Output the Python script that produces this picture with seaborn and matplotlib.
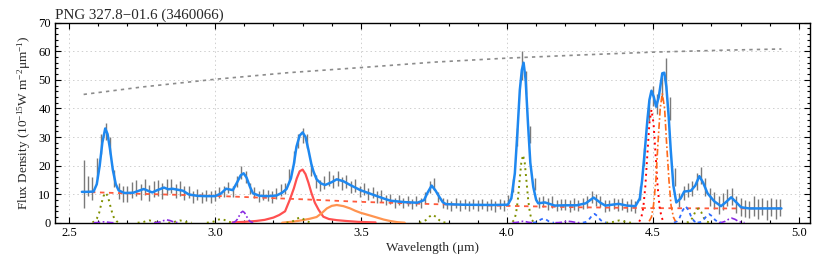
import matplotlib
matplotlib.use("Agg")
import matplotlib.pyplot as plt
import numpy as np
import pandas as pd
import seaborn as sns

nan = np.nan

# observed spectrum (uniform 0.015 um grid starting at 2.55 um)
wave_start = 2.55
wave_step = 0.015
flux = [
    13.5, 13.0, 12.0, 19.0, 27.5, 32.0, 27.0, 15.5, 11.0, 10.0,
    10.2, 11.5, 12.0, 10.8, 12.5, 10.5, 11.8, 12.2, 11.2, 12.6,
    12.8, 11.2, 12.0, 10.4, 10.8, 9.0, 9.8, 8.8, 9.6, 9.0,
    9.6, 10.5, 11.0, 12.4, 11.0, 14.5, 17.5, 16.0, 12.0, 10.5,
    9.2, 9.8, 9.5, 9.0, 10.2, 11.5, 12.0, 16.5, 23.0, 28.5,
    30.5, 28.5, 18.5, 14.5, 13.0, 14.0, 15.5, 14.5, 15.5, 13.8,
    14.5, 12.5, 13.0, 11.0, 11.8, 10.0, 10.5, 9.0, 9.4, 8.0,
    8.2, 7.0, 8.0, 6.8, 7.6, 6.6, 7.5, 7.0, 8.8, 12.5,
    13.5, 9.0, 7.0, 6.5, 5.8, 6.8, 6.0, 6.5, 5.9, 6.6,
    6.0, 6.6, 5.8, 6.4, 5.7, 6.5, 6.0, 7.8, 13.0, 30.0,
    55.0, 49.0, 31.0, 13.5, 7.0, 7.5, 6.5, 7.2, 6.0, 6.4,
    6.4, 5.8, 6.5, 6.0, 6.8, 7.2, 9.0, 8.0, 7.4, 5.8,
    6.0, 6.8, 6.2, 6.5, 5.6, 6.2, 5.5, 10.5, 23.0, 39.0,
    44.5, 41.5, 47.0, 52.0, 40.0, 16.0, 8.0, 10.5, 11.5, 12.0,
    14.5, 16.5, 12.5, 9.0, 7.8, 6.2, 7.5, 8.8, 9.2, 6.5,
    5.5, 5.0, 4.6, 5.8, 4.8, 5.6, 4.5, 5.5, 4.8, 5.2,
]
flux_err = [
    8.5, 3.5, 4.0, 3.5, 3.5, 3.0, 3.0, 3.0, 2.8, 2.8,
    2.8, 2.8, 2.8, 2.8, 2.8, 2.8, 2.8, 2.8, 2.8, 2.8,
    2.5, 2.5, 2.5, 2.5, 2.2, 2.2, 2.0, 2.0, 2.0, 2.0,
    2.0, 2.0, 2.0, 2.0, 2.0, 2.0, 2.2, 2.2, 2.0, 2.0,
    2.0, 2.0, 2.0, 2.0, 2.0, 2.0, 2.0, 2.2, 2.2, 2.5,
    2.5, 2.5, 2.2, 2.2, 2.0, 2.2, 2.5, 2.2, 2.5, 2.2,
    2.2, 2.2, 2.2, 2.0, 2.2, 2.0, 2.0, 2.0, 2.0, 1.8,
    1.8, 1.8, 1.8, 1.8, 1.8, 1.8, 1.8, 1.8, 1.8, 2.0,
    2.0, 1.8, 1.8, 1.8, 1.8, 1.8, 1.8, 1.8, 1.8, 1.8,
    1.8, 1.8, 1.8, 1.8, 1.8, 1.8, 1.8, 2.0, 2.2, 3.0,
    5.0, 4.0, 3.0, 2.2, 2.0, 2.0, 2.0, 2.0, 2.0, 2.0,
    2.0, 2.0, 2.0, 2.0, 2.0, 2.0, 2.0, 2.0, 2.0, 2.0,
    2.0, 2.0, 2.0, 2.0, 2.0, 2.0, 2.0, 2.5, 3.0, 3.5,
    3.5, 3.5, 4.0, 5.5, 4.0, 3.0, 2.5, 2.5, 2.5, 2.5,
    3.0, 3.0, 3.0, 3.0, 3.0, 3.0, 3.0, 3.0, 3.0, 3.0,
    3.0, 3.0, 3.0, 3.5, 3.5, 3.0, 3.5, 3.0, 3.5, 3.0,
]
wave = np.round(wave_start + wave_step * np.arange(len(flux)), 3)

# total model fit
fit_x = [2.544, 2.56, 2.584, 2.595, 2.605, 2.614, 2.624, 2.632, 2.64, 2.65, 2.66, 2.67,
         2.69, 2.72, 2.74, 2.756, 2.77, 2.785, 2.80, 2.825, 2.84, 2.854, 2.87, 2.89,
         2.91, 2.94, 2.97, 3.00, 3.02, 3.038, 3.061, 3.075, 3.088, 3.098, 3.108, 3.12,
         3.13, 3.153, 3.18, 3.21, 3.23, 3.245, 3.26, 3.27, 3.279, 3.29, 3.30, 3.31, 3.32,
         3.33, 3.337, 3.348, 3.362, 3.377, 3.40, 3.417, 3.44, 3.463, 3.498, 3.53, 3.555,
         3.58, 3.601, 3.65, 3.693, 3.716, 3.728, 3.742, 3.755, 3.768, 3.78, 3.791, 3.85,
         3.95, 4.003, 4.015, 4.027, 4.036, 4.044, 4.051, 4.057, 4.064, 4.072, 4.08, 4.09,
         4.10, 4.107, 4.13, 4.164, 4.20, 4.239, 4.27, 4.297, 4.32, 4.337, 4.36, 4.383,
         4.41, 4.44, 4.455, 4.463, 4.472, 4.481, 4.488, 4.495, 4.503, 4.511, 4.52, 4.532,
         4.539, 4.546, 4.554, 4.561, 4.57, 4.58, 4.595, 4.607, 4.63, 4.645, 4.659, 4.672,
         4.687, 4.71, 4.733, 4.75, 4.768, 4.785, 4.802, 4.83, 4.94]
fit_y = [10.8, 10.8, 10.9, 13.5, 20.0, 28.0, 33.0, 31.0, 26.0, 18.5, 13.5, 11.3,
         10.4, 10.5, 11.2, 11.8, 11.2, 10.6, 11.3, 12.3, 11.7, 11.9, 11.6, 11.2,
         9.9, 9.4, 9.3, 9.3, 10.2, 11.9, 11.4, 14.0, 16.6, 17.3, 15.8, 12.5,
         10.3, 9.4, 9.3, 9.5, 10.5, 11.8, 15.5, 20.5, 26.6, 30.5, 31.6, 30.0, 25.5,
         20.5, 18.0, 15.2, 13.8, 13.2, 14.2, 15.2, 14.5, 13.2, 11.4, 10.2, 9.3,
         8.4, 7.7, 7.2, 7.0, 7.9, 10.5, 13.0, 11.3, 9.1, 7.2, 6.5, 6.3,
         6.2, 6.3, 8.5, 17.3, 32.0, 46.4, 53.5, 56.0, 50.0, 34.8, 21.0, 12.6,
         8.0, 6.8, 7.1, 6.0, 6.1, 6.1, 6.8, 8.8, 7.0, 6.0, 6.3, 6.6,
         6.0, 5.8, 8.5, 14.9, 25.0, 35.9, 43.0, 46.2, 44.0, 40.6, 44.0, 52.3,
         52.5, 47.6, 37.0, 25.4, 13.0, 7.1, 8.5, 10.9, 11.2, 13.0, 16.3, 14.0,
         10.3, 7.5, 5.8, 7.2, 8.9, 7.2, 5.4, 5.0, 5.0]

# continuum and blackbody
cont_x = [2.544, 2.75, 3.0, 3.3, 3.5, 3.75, 4.0, 4.25, 4.5, 4.75, 4.94]
cont_y = [10.8, 10.1, 9.4, 8.2, 7.3, 6.5, 5.9, 5.4, 5.1, 5.0, 5.0]
bb_x = [2.55, 2.75, 3.0, 3.25, 3.5, 3.75, 4.0, 4.25, 4.5, 4.75, 4.94]
bb_y = [44.9, 47.5, 50.2, 52.5, 54.3, 56.2, 57.6, 58.7, 59.7, 60.4, 60.8]

# broad features (solid)
broad_red_x = [3.06, 3.10, 3.14, 3.17, 3.20, 3.22, 3.24, 3.256, 3.27, 3.28, 3.29, 3.30,
               3.31, 3.32, 3.33, 3.342, 3.355, 3.371, 3.39, 3.417, 3.45, 3.49, 3.55]
broad_red_y = [0.1, 0.3, 0.6, 1.0, 1.8, 2.7, 4.0, 8.0, 12.0, 15.5, 18.0, 18.6,
               17.0, 14.0, 10.5, 7.0, 4.5, 2.1, 1.3, 0.9, 0.6, 0.3, 0.1]
broad_orange_x = [3.23, 3.27, 3.30, 3.325, 3.348, 3.365, 3.383, 3.40, 3.417, 3.44, 3.463,
                  3.48, 3.498, 3.515, 3.532, 3.555, 3.578, 3.60, 3.624, 3.65]
broad_orange_y = [0.0, 0.4, 0.9, 1.4, 2.0, 3.3, 5.0, 5.9, 6.2, 5.8, 5.0,
                  4.2, 3.5, 3.0, 2.5, 1.8, 1.1, 0.6, 0.2, 0.0]

# narrow lines, grouped by line style (nan separates lines)
olive_x = [2.580, 2.588, 2.595, 2.603, 2.610, 2.618, 2.625, 2.633, 2.640, 2.648, 2.655, 2.663, 2.670, nan,
           2.735, 2.745, 2.755, 2.765, 2.775, 2.785, 2.795, 2.805, 2.815, nan,
           2.840, 2.850, 2.860, 2.870, 2.880, 2.890, 2.900, 2.910, 2.920, nan,
           2.972, 2.984, 2.996, 3.008, 3.020, 3.032, 3.044, 3.056, 3.068, nan,
           3.245, 3.256, 3.268, 3.279, 3.290, 3.301, 3.313, 3.324, 3.335, nan,
           3.700, 3.711, 3.722, 3.734, 3.745, 3.756, 3.768, 3.779, 3.790, nan,
           4.019, 4.025, 4.031, 4.037, 4.043, 4.049, 4.055, 4.061, 4.067, 4.073, 4.079, 4.085, 4.091, nan,
           4.340, 4.351, 4.363, 4.374, 4.385, 4.396, 4.408, 4.419, 4.430, nan,
           4.616, 4.626, 4.635, 4.645, 4.655, 4.665, 4.675, 4.684, 4.694]
olive_y = [0.1, 0.5, 1.4, 3.4, 6.4, 9.3, 10.5, 9.3, 6.4, 3.4, 1.4, 0.5, 0.1, nan,
           0.01, 0.06, 0.26, 0.6, 0.8, 0.6, 0.26, 0.06, 0.01, nan,
           0.01, 0.06, 0.26, 0.6, 0.8, 0.6, 0.26, 0.06, 0.01, nan,
           0.01, 0.1, 0.42, 0.98, 1.3, 0.98, 0.42, 0.1, 0.01, nan,
           0.02, 0.14, 0.58, 1.36, 1.8, 1.36, 0.58, 0.14, 0.02, nan,
           0.03, 0.22, 0.91, 2.11, 2.8, 2.11, 0.91, 0.22, 0.03, nan,
           0.3, 1.0, 3.2, 7.7, 14.4, 20.9, 23.7, 20.9, 14.4, 7.7, 3.2, 1.0, 0.3, nan,
           0.01, 0.06, 0.26, 0.6, 0.8, 0.6, 0.26, 0.06, 0.01, nan,
           0.06, 0.4, 1.6, 3.8, 5.0, 3.8, 1.6, 0.4, 0.06]

purple_x = [2.584, 2.593, 2.602, 2.611, 2.620, 2.629, 2.638, 2.647, 2.656, nan,
            2.791, 2.802, 2.813, 2.824, 2.835, 2.846, 2.857, 2.868, 2.879, nan,
            3.059, 3.065, 3.071, 3.077, 3.083, 3.089, 3.095, 3.101, 3.107, 3.113, 3.119, 3.125, 3.131, nan,
            4.019, 4.028, 4.037, 4.046, 4.055, 4.064, 4.073, 4.082, 4.091, nan,
            4.166, 4.177, 4.188, 4.199, 4.210, 4.221, 4.232, 4.243, 4.254, nan,
            4.726, 4.737, 4.748, 4.759, 4.770, 4.781, 4.792, 4.803, 4.814]
purple_y = [0.0, 0.02, 0.1, 0.23, 0.3, 0.23, 0.1, 0.02, 0.0, nan,
            0.01, 0.08, 0.32, 0.75, 1.0, 0.75, 0.32, 0.08, 0.01, nan,
            0.04, 0.18, 0.54, 1.3, 2.43, 3.53, 4.0, 3.53, 2.43, 1.3, 0.54, 0.18, 0.04, nan,
            0.01, 0.04, 0.16, 0.38, 0.5, 0.38, 0.16, 0.04, 0.01, nan,
            0.01, 0.04, 0.16, 0.38, 0.5, 0.38, 0.16, 0.04, 0.01, nan,
            0.02, 0.13, 0.51, 1.2, 1.6, 1.2, 0.51, 0.13, 0.02]

blue_x = [4.089, 4.098, 4.107, 4.116, 4.125, 4.134, 4.143, 4.152, 4.161, nan,
          4.260, 4.270, 4.280, 4.290, 4.300, 4.310, 4.320, 4.330, 4.340, nan,
          4.572, 4.582, 4.592, 4.602, 4.612, 4.622, 4.632, 4.642, 4.652, nan,
          4.653, 4.663, 4.673, 4.683, 4.693, 4.703, 4.713, 4.723, 4.733]
blue_y = [0.02, 0.12, 0.49, 1.13, 1.5, 1.13, 0.49, 0.12, 0.02, nan,
          0.03, 0.25, 0.99, 2.33, 3.1, 2.33, 0.99, 0.25, 0.03, nan,
          0.06, 0.46, 1.86, 4.35, 5.8, 4.35, 1.86, 0.46, 0.06, nan,
          0.03, 0.24, 0.96, 2.25, 3.0, 2.25, 0.96, 0.24, 0.03]

red_dot_x = [4.453, 4.460, 4.467, 4.474, 4.481, 4.488, 4.495, 4.502, 4.509, 4.516, 4.523, 4.530, 4.537]
red_dot_y = [0.4, 1.7, 5.3, 12.8, 24.0, 34.9, 39.5, 34.9, 24.0, 12.8, 5.3, 1.7, 0.4]
orange_dd_x = [4.487, 4.495, 4.502, 4.510, 4.517, 4.525, 4.532, 4.540, 4.547, 4.555, 4.562, 4.570, 4.577]
orange_dd_y = [0.5, 2.0, 6.1, 14.7, 27.5, 40.0, 45.3, 40.0, 27.5, 14.7, 6.1, 2.0, 0.5]

sns.set_theme(style="ticks", context="paper")
plt.rcParams["font.family"] = ["Liberation Serif", "DejaVu Serif"]
plt.rcParams["mathtext.fontset"] = "custom"
plt.rcParams["mathtext.rm"] = "Liberation Serif"
plt.rcParams["mathtext.it"] = "Liberation Serif:italic"

fig = plt.figure(figsize=(8.3, 2.56), dpi=100)
ax = fig.add_axes([0.0663, 0.130, 0.9096, 0.7813])

ax.grid(True, which="major", ls=(0, (1.5, 3)), color="#cfcfcf", lw=0.7)

# error bars of the spectrum
ax.errorbar(wave, flux, yerr=flux_err, fmt="none", ecolor="#7a7a7a", elinewidth=1.0, zorder=2)


def line(x, y, **kw):
    df = pd.DataFrame({"x": x, "y": y})
    # keep the nan breaks, so draw through matplotlib on the seaborn axis
    ax.plot(df["x"], df["y"], **kw)


sns.lineplot(x=bb_x, y=bb_y, ax=ax, color="#8c8c8c", lw=1.2, ls=(0, (2, 2.5)), zorder=3)
sns.lineplot(x=cont_x, y=cont_y, ax=ax, color="#ff5a3c", lw=1.3, ls=(0, (2.5, 2.5)), zorder=3)
sns.lineplot(x=broad_red_x, y=broad_red_y, ax=ax, color="#ff5050", lw=1.6, zorder=3)
sns.lineplot(x=broad_orange_x, y=broad_orange_y, ax=ax, color="#ff9450", lw=1.6, zorder=3)
line(olive_x, olive_y, color="#7f9000", lw=1.4, ls=(0, (1, 2)), zorder=3)
line(purple_x, purple_y, color="#8a2be2", lw=1.2, ls=(0, (4, 1.5, 1, 1.5)), zorder=3)
line(blue_x, blue_y, color="#2f6bff", lw=1.3, ls=(0, (2, 2)), zorder=3)
line(red_dot_x, red_dot_y, color="#ff0000", lw=1.4, ls=(0, (1, 2)), zorder=3)
line(orange_dd_x, orange_dd_y, color="#ff6a1a", lw=1.2, ls=(0, (4, 1.5, 1, 1.5)), zorder=3)
sns.lineplot(x=fit_x, y=fit_y, ax=ax, color="#1e88f0", lw=1.8, zorder=4, sort=False)

ax.set_xlim(2.452, 5.038)
ax.set_ylim(0, 70)
ax.xaxis.set_major_locator(matplotlib.ticker.MultipleLocator(0.5))
ax.xaxis.set_minor_locator(matplotlib.ticker.MultipleLocator(0.1))
ax.yaxis.set_major_locator(matplotlib.ticker.MultipleLocator(10))
ax.yaxis.set_minor_locator(matplotlib.ticker.MultipleLocator(2))
ax.xaxis.set_major_formatter(matplotlib.ticker.FormatStrFormatter("%.1f"))
ax.tick_params(which="both", direction="in", top=True, right=True, colors="black",
               labelsize=9, width=0.8, pad=3)
ax.tick_params(which="major", length=4)
ax.tick_params(which="minor", length=2)
for s in ax.spines.values():
    s.set_linewidth(1.0)
    s.set_color("black")

ax.set_xlabel("Wavelength (μm)", fontsize=9.5, labelpad=2)
ax.set_ylabel(r"Flux Density ($10^{-15}$W m$^{-2}$μm$^{-1}$)", fontsize=9.5, labelpad=4)
ax.set_title("PNG 327.8\u221201.6 (3460066)", loc="left", fontsize=10.8, pad=3)

fig.savefig("out.png", dpi=100)
